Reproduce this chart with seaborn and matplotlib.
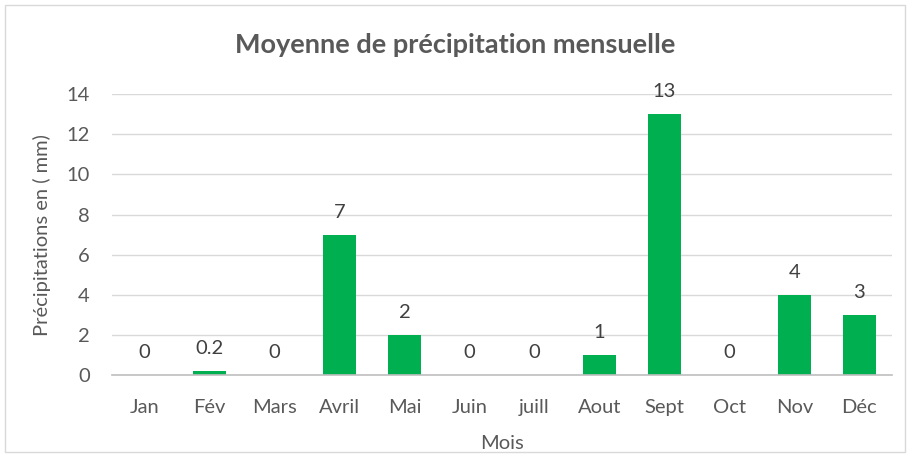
import matplotlib
matplotlib.use("Agg")
import matplotlib.pyplot as plt
import seaborn as sns
import pandas as pd
from matplotlib.patches import Rectangle

months = ["Jan", "Fév", "Mars", "Avril", "Mai", "Juin", "juill", "Aout", "Sept", "Oct", "Nov", "Déc"]
precip = [0, 0.2, 0, 7, 2, 0, 0, 1, 13, 0, 4, 3]
labels = ["0", "0.2", "0", "7", "2", "0", "0", "1", "13", "0", "4", "3"]
yticks = [0, 2, 4, 6, 8, 10, 12, 14]

df = pd.DataFrame({"Mois": months, "Précipitations": precip})

sns.set_theme(style="white")
plt.rcParams['font.family'] = ['Lato', 'DejaVu Sans']

fig = plt.figure(figsize=(9.1, 4.57), dpi=100)
fig.patches.append(Rectangle((5/910, 5/457), 900/910, 447/457, transform=fig.transFigure,
                             fill=False, edgecolor="#D9D9D9", linewidth=1))
ax = fig.add_axes([0.123, 0.179, 0.857, 0.615])

sns.barplot(data=df, x="Mois", y="Précipitations", color="#00B050", width=0.5,
            saturation=1, ax=ax, edgecolor="none")

fs = 14.5
ax.set_ylim(0, 14)
ax.set_yticks(yticks)
ax.yaxis.grid(True, color="#D9D9D9", linewidth=1)
ax.set_axisbelow(True)
for s in ["top", "right", "left"]:
    ax.spines[s].set_visible(False)
ax.spines["bottom"].set_color("#BFBFBF")
ax.spines["bottom"].set_linewidth(1.2)
ax.tick_params(axis="both", length=0, labelsize=fs, colors="#595959")
ax.tick_params(axis="x", pad=17)
ax.tick_params(axis="y", pad=16)

for i, (v, lab) in enumerate(zip(precip, labels)):
    ax.annotate(lab, (i, v), xytext=(0, 10), textcoords="offset points",
                ha="center", va="bottom", fontsize=fs, color="#404040")

ax.set_xlabel("Mois", fontsize=fs, color="#595959", labelpad=14)
ax.set_ylabel("Précipitations en ( mm)", fontsize=fs, color="#595959", labelpad=11)
fig.text(0.5, 1 - 45/457, "Moyenne de précipitation mensuelle", ha="center", va="center",
         fontsize=19.5, fontweight="bold", color="#595959")

fig.savefig("out.png", dpi=100)
